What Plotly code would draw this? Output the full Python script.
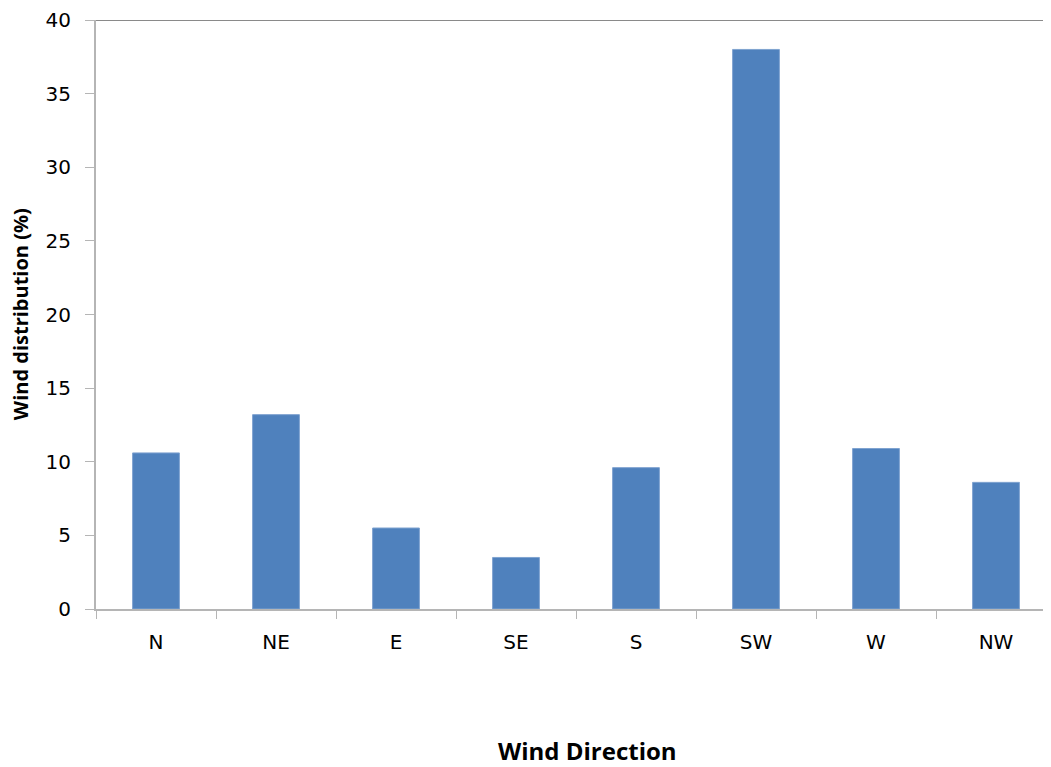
import plotly.graph_objects as go

directions = ["N", "NE", "E", "SE", "S", "SW", "W", "NW"]
wind_pct = [10.6, 13.2, 5.5, 3.5, 9.6, 38.0, 10.9, 8.6]
y_ticks = [0, 5, 10, 15, 20, 25, 30, 35, 40]

fig = go.Figure()
fig.add_trace(go.Bar(
    x=directions, y=wind_pct,
    marker=dict(color="#4F81BD", line=dict(color="#7fa3d0", width=1)),
    width=0.39,
))

# page body has an 8px margin; compensate so the picture lands where the reference is
OFF = 8
W, H = 1051 - OFF, 767 - OFF
ml, mt = 96 - OFF, 20 - OFF
plot_bottom = 608.7 - OFF
mb = H - plot_bottom
plot_w = W - ml
plot_h = H - mt - mb
slot = 120.0
right = -0.5 + plot_w / slot

fig.update_layout(
    width=W, height=H,
    margin=dict(l=ml, r=0, t=mt, b=mb, pad=0, autoexpand=False),
    plot_bgcolor="white", paper_bgcolor="white",
    showlegend=False,
    font=dict(family="DejaVu Sans", size=20, color="#000000"),
)
fig.update_xaxes(
    range=[-0.5, right], automargin=False,
    showline=True, linecolor="#b5b5b5", linewidth=2,
    ticks="outside", tickson="boundaries", ticklen=8, tickcolor="#b5b5b5", tickwidth=1,
    showgrid=False, zeroline=False, ticklabelstandoff=14,
    tickfont=dict(family="DejaVu Sans", size=20),
)
fig.update_yaxes(
    range=[0, 40], tickvals=y_ticks, automargin=False,
    showline=True, linecolor="#b5b5b5", linewidth=2,
    ticks="outside", ticklen=9, tickcolor="#b5b5b5", tickwidth=1,
    showgrid=False, zeroline=False, ticklabelstandoff=10,
    tickfont=dict(family="DejaVu Sans", size=20),
)
fig.add_shape(type="line", xref="paper", yref="y", x0=0, x1=1, y0=40, y1=40,
              line=dict(color="#8a8a8a", width=2))
fig.add_annotation(text="<b>Wind distribution (%)</b>", xref="paper", yref="paper",
                   x=-(96 - 20) / plot_w, y=(608.7 - 314) / plot_h, textangle=-90,
                   xanchor="center", yanchor="middle", showarrow=False,
                   font=dict(family="Open Sans", size=20, color="#000000"))
fig.add_annotation(text="<b>Wind Direction</b>", xref="paper", yref="paper",
                   x=(587 - 96) / plot_w, y=-(750 - 608.7) / plot_h,
                   xanchor="center", yanchor="middle", showarrow=False,
                   font=dict(family="Open Sans", size=24, color="#000000"))

fig.write_html("out.html")
